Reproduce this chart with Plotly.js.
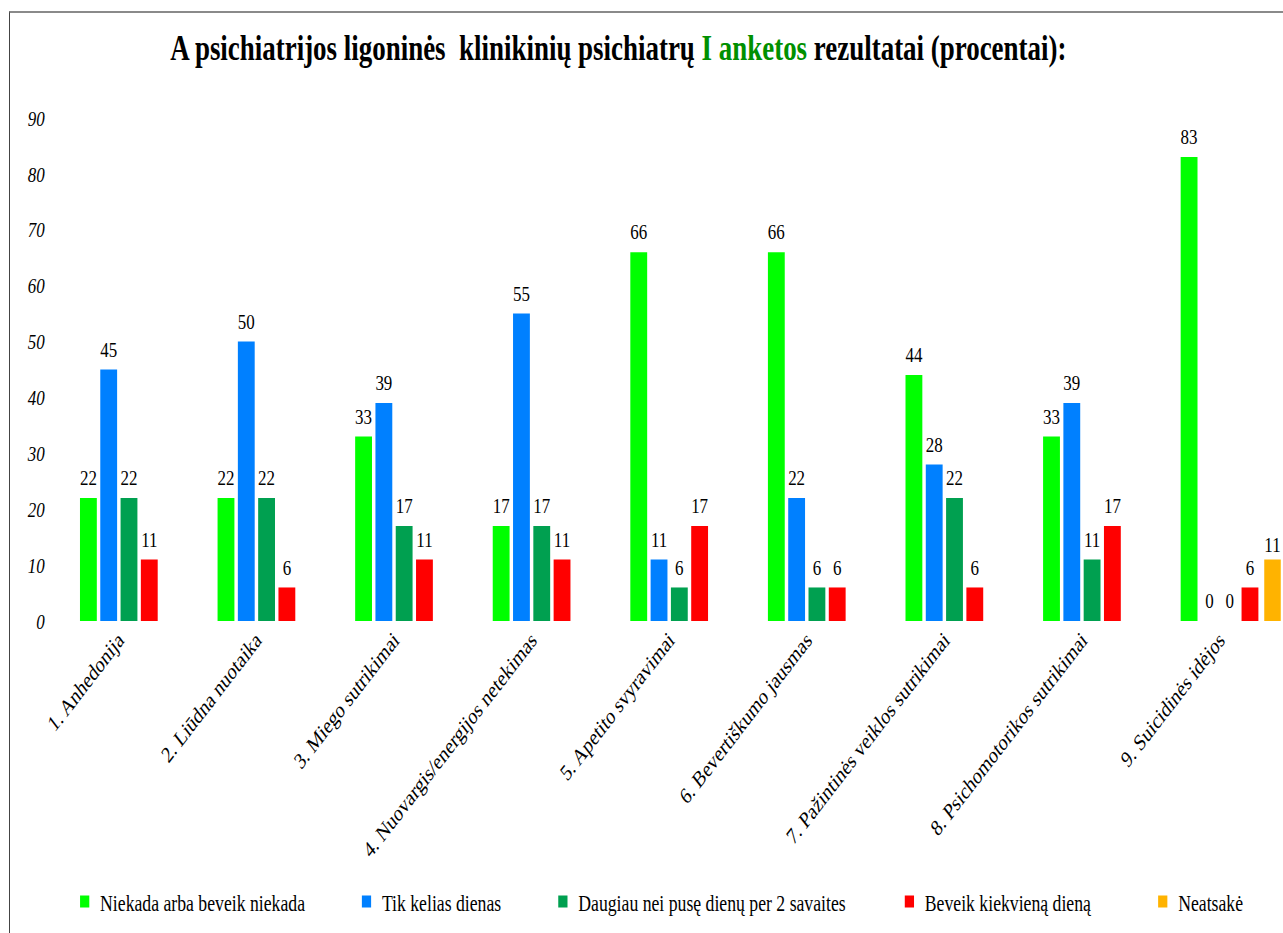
<!DOCTYPE html>
<html>
<head>
<meta charset="utf-8">
<script src="https://cdn.plot.ly/plotly-3.0.1.min.js"></script>
<style>
  html, body { margin: 0; padding: 0; background: #fff; overflow: hidden; }
  #wrap { position: relative; width: 1283px; height: 933px; overflow: hidden; }
  /* the chart is laid out wide and squeezed horizontally to get the narrow lettering */
  #chart { width: 1666px; height: 933px; transform: scaleX(0.77); transform-origin: 0 0; }
  #frame { position: absolute; left: 9px; top: 11px; right: -2px; bottom: -2px;
           border-left: 1px solid #444; border-top: 2px solid #8a8a8a; pointer-events: none; }
</style>
</head>
<body>
<div id="wrap">
  <div id="chart"></div>
  <div id="frame"></div>
</div>
<script>
// Survey answers per symptom, in percent
var categories = [
  '1. Anhedonija',
  '2. Liūdna nuotaika',
  '3. Miego sutrikimai',
  '4. Nuovargis/energijos netekimas',
  '5. Apetito svyravimai',
  '6. Bevertiškumo jausmas',
  '7. Pažintinės veiklos sutrikimai',
  '8. Psichomotorikos sutrikimai',
  '9. Suicidinės idėjos'
];
var seriesNames = [
  'Niekada arba beveik niekada',
  'Tik kelias dienas',
  'Daugiau nei pusę dienų per 2 savaites',
  'Beveik kiekvieną dieną',
  'Neatsakė'
];
var niekada  = [22, 22, 33, 17, 66, 66, 44, 33, 83];
var kelias   = [45, 50, 39, 55, 11, 22, 28, 39, 0];
var daugiau  = [22, 22, 17, 17, 6, 6, 22, 11, 0];
var kasdien  = [11, 6, 11, 11, 17, 6, 6, 17, 6];
var neatsake = [null, null, null, null, null, null, null, null, 11];
var yTicks   = [0, 10, 20, 30, 40, 50, 60, 70, 80, 90];

var colors = ['#00FF00', '#0080FF', '#00A050', '#FF0000', '#FFB300'];
var serif = 'Liberation Serif, Times New Roman, serif';

var grouped = [niekada, kelias, daugiau, kasdien];
var legendIds = ['legend', 'legend2', 'legend3', 'legend4', 'legend5'];

var traces = [];
grouped.forEach(function (vals, i) {
  traces.push({
    type: 'bar', x: categories, y: vals, name: seriesNames[i],
    marker: { color: colors[i], line: { width: 0 } },
    legend: legendIds[i], hoverinfo: 'skip'
  });
});
// unanswered share sits right after the last group, outside the grouping slots
traces.push({
  type: 'bar', x: categories, y: neatsake, name: seriesNames[4],
  marker: { color: colors[4], line: { width: 0 } },
  offset: 0.325, width: 0.12,
  text: neatsake.map(function (v) { return v === null ? '' : String(v); }),
  textposition: 'outside', cliponaxis: false,
  textfont: { family: serif, size: 22, color: '#000' },
  legend: legendIds[4], hoverinfo: 'skip'
});
// value labels above the grouped bars
grouped.forEach(function (vals, i) {
  traces.push({
    type: 'scatter', mode: 'markers+text', x: categories, y: vals,
    text: vals.map(String), textposition: 'top center',
    textfont: { family: serif, size: 22, color: '#000' },
    marker: { size: 10, color: 'rgba(0,0,0,0)' },
    showlegend: false, hoverinfo: 'skip', cliponaxis: false
  });
});

function legendAt(x) {
  return {
    orientation: 'h', x: x, y: -0.558, xanchor: 'left', yanchor: 'middle',
    font: { family: serif, size: 23, color: '#000' },
    bgcolor: 'rgba(0,0,0,0)', borderwidth: 0
  };
}

var layout = {
  width: 1666, height: 933,
  margin: { l: 65, r: 0, t: 118, b: 312, pad: 0 },
  paper_bgcolor: '#fff', plot_bgcolor: '#fff',
  barmode: 'group', bargap: 0.41, bargroupgap: 0.17,
  scattermode: 'group', scattergap: 0.41,
  hovermode: false,
  title: {
    text: 'A psichiatrijos ligoninės \u00a0klinikinių psichiatrų <span style="color:#009000">I anketos</span> rezultatai (procentai):',
    font: { family: serif, size: 35, weight: 'bold', color: '#000' },
    x: 0.482, xanchor: 'center', y: 0.9486, yanchor: 'middle'
  },
  xaxis: {
    type: 'category', categoryarray: categories, range: [-0.5, 8.46],
    tickangle: -45, ticks: '', showline: false, showgrid: false, zeroline: false,
    tickfont: { family: serif, size: 23, color: '#000' }
  },
  yaxis: {
    range: [0, 90], tickvals: yTicks, ticktext: yTicks.map(String),
    ticks: '', showline: false, showgrid: false, zeroline: false,
    ticklabelstandoff: 6,
    tickfont: { family: serif, size: 22, style: 'italic', color: '#000' }
  },
  legend: legendAt(0.0156),
  legend2: legendAt(0.2442),
  legend3: legendAt(0.4035),
  legend4: legendAt(0.6846),
  legend5: legendAt(0.8901)
};

Plotly.newPlot('chart', traces, layout, { displayModeBar: false, staticPlot: true });
</script>
</body>
</html>
